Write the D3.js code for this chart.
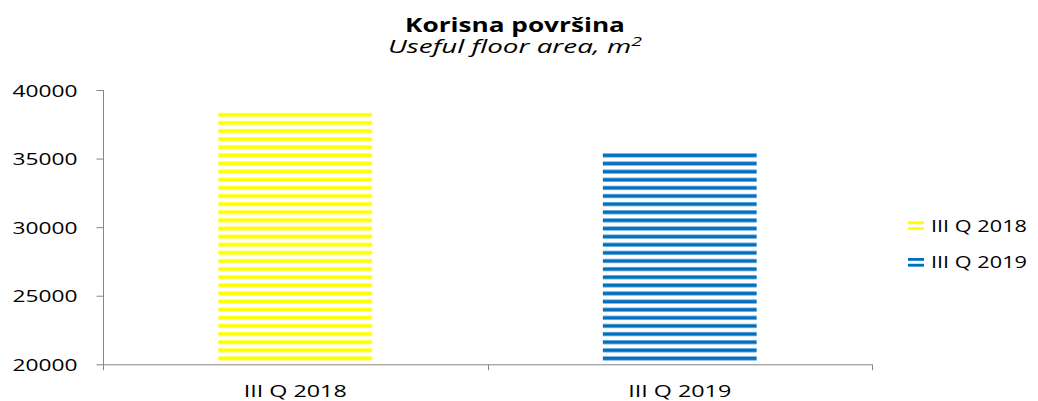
<!DOCTYPE html>
<html><head><meta charset="utf-8">
<script src="https://cdn.jsdelivr.net/npm/d3@7"></script>
<style>body{margin:0;background:#fff}svg{display:block}</style>
</head><body>
<svg id="c" width="1038" height="401"></svg>
<script>
const categories = ["III Q 2018", "III Q 2019"];
const values = [38350, 35430];
const seriesNames = ["III Q 2018", "III Q 2019"];
const yTicks = [20000, 25000, 30000, 35000, 40000];
const titleText = "Korisna površina";
const subtitleText = "Useful floor area, m";
const subtitleSup = "2";
const colors = ["#FFFF00", "#0070C0"];
const edgeColors = ["#FFFF66", "#7FB2DE"];

const svg = d3.select("#c");
const font = "'Open Sans', sans-serif";
const X0 = 103, X1 = 872, YTOP = 90, YBOT = 364.3;
const axisColor = "#868686";

const x = d3.scaleBand().domain(categories).range([X0, X1]).paddingInner(0.6).paddingOuter(0.3);
const y = d3.scaleLinear().domain([20000, 40000]).range([YBOT, YTOP]);

// stretch text horizontally to a target width, anchored at its x
function stretch(sel, w) {
  sel.each(function () {
    const bb = this.getBBox();
    const ax = +this.getAttribute("x") || 0;
    const k = w / bb.width;
    const prev = this.getAttribute("transform") || "";
    this.setAttribute("transform", prev + ` translate(${ax},0) scale(${k},1) translate(${-ax},0)`);
  });
}

// patterns
const defs = svg.append("defs");
const period = 8.12, stripe = 4.1;
colors.forEach((c, i) => {
  const p = defs.append("pattern").attr("id", "pat" + i)
    .attr("patternUnits", "userSpaceOnUse")
    .attr("x", 0).attr("y", y(20000))
    .attr("width", 20).attr("height", period);
  p.append("rect").attr("width", 20).attr("height", period).attr("fill", "#fff");
  p.append("rect").attr("y", 0).attr("width", 20).attr("height", stripe).attr("fill", c);
  p.append("rect").attr("y", 0).attr("width", 20).attr("height", 0.8).attr("fill", edgeColors[i]);
  const m = defs.append("pattern").attr("id", "mpat" + i)
    .attr("patternUnits", "userSpaceOnUse")
    .attr("x", 0).attr("y", 0)
    .attr("width", 20).attr("height", 6);
  m.append("rect").attr("width", 20).attr("height", 6).attr("fill", "#fff");
  m.append("rect").attr("y", 0).attr("width", 20).attr("height", 3).attr("fill", c);
});

// bars
svg.append("g").selectAll("rect").data(values).join("rect")
  .attr("x", (d, i) => x(categories[i]))
  .attr("width", x.bandwidth())
  .attr("y", d => y(d))
  .attr("height", d => y(20000) - y(d))
  .attr("fill", (d, i) => `url(#pat${i})`);

// y axis
const yAxis = svg.append("g").attr("transform", `translate(${X0 + 0.5},0)`)
  .call(d3.axisLeft(y).tickValues(yTicks).tickSize(7).tickSizeOuter(0).tickPadding(19).tickFormat(d3.format("d")));
yAxis.select(".domain").remove();
yAxis.selectAll(".tick line").attr("stroke", axisColor);
yAxis.append("line").attr("x1", 0).attr("x2", 0).attr("y1", YTOP).attr("y2", YBOT + 6).attr("stroke", axisColor);
yAxis.selectAll(".tick text").attr("font-family", font).attr("font-size", 17).attr("fill", "#000")
  .attr("dy", "0.36em").attr("x", -26);
stretch(yAxis.selectAll(".tick text"), 65);

// x axis
const xAxis = svg.append("g").attr("transform", `translate(0,${YBOT})`);
xAxis.append("line").attr("x1", X0).attr("x2", X1).attr("y1", 0.5).attr("y2", 0.5).attr("stroke", axisColor);
const bounds = categories.map(c => x(c) + x.bandwidth() / 2 - x.step() / 2);
bounds.push(x(categories[categories.length - 1]) + x.bandwidth() / 2 + x.step() / 2);
xAxis.selectAll("line.tk").data(bounds.slice(1)).join("line").attr("class", "tk")
  .attr("x1", d => Math.round(d) + 0.5).attr("x2", d => Math.round(d) + 0.5)
  .attr("y1", 0).attr("y2", 6).attr("stroke", axisColor);
const xl = xAxis.selectAll("text").data(categories).join("text")
  .attr("x", d => x(d) + x.bandwidth() / 2).attr("y", 397 - YBOT)
  .attr("text-anchor", "middle").attr("font-family", font).attr("font-size", 16.5).attr("fill", "#000")
  .text(d => d);
stretch(xl, 103);

// title + subtitle
const t1 = svg.append("text").attr("x", 515).attr("y", 32).attr("text-anchor", "middle")
  .attr("font-family", font).attr("font-weight", "bold").attr("font-size", 19.5).attr("fill", "#000")
  .text(titleText);
stretch(t1, 220);
const t2 = svg.append("text").attr("x", 515).attr("y", 53).attr("text-anchor", "middle")
  .attr("font-family", font).attr("font-style", "italic").attr("font-size", 18.5).attr("fill", "#000");
t2.append("tspan").text(subtitleText);
t2.append("tspan").attr("font-size", 13).attr("dy", -7).text(subtitleSup);
stretch(t2, 254);

// legend
const lg = svg.append("g");
const baseY = [231.7, 268.3];
seriesNames.forEach((s, i) => {
  const by = baseY[0] + i * (baseY[1] - baseY[0]);
  const top = by - 10.5;
  d3.select(`#mpat${i}`).attr("y", top);
  lg.append("rect").attr("x", 908).attr("y", top).attr("width", 16).attr("height", 9)
    .attr("fill", `url(#mpat${i})`);
  const tx = lg.append("text").attr("x", 931).attr("y", by)
    .attr("font-family", font).attr("font-size", 17).attr("fill", "#000").text(s);
  stretch(tx, 96);
});
</script>
</body></html>
